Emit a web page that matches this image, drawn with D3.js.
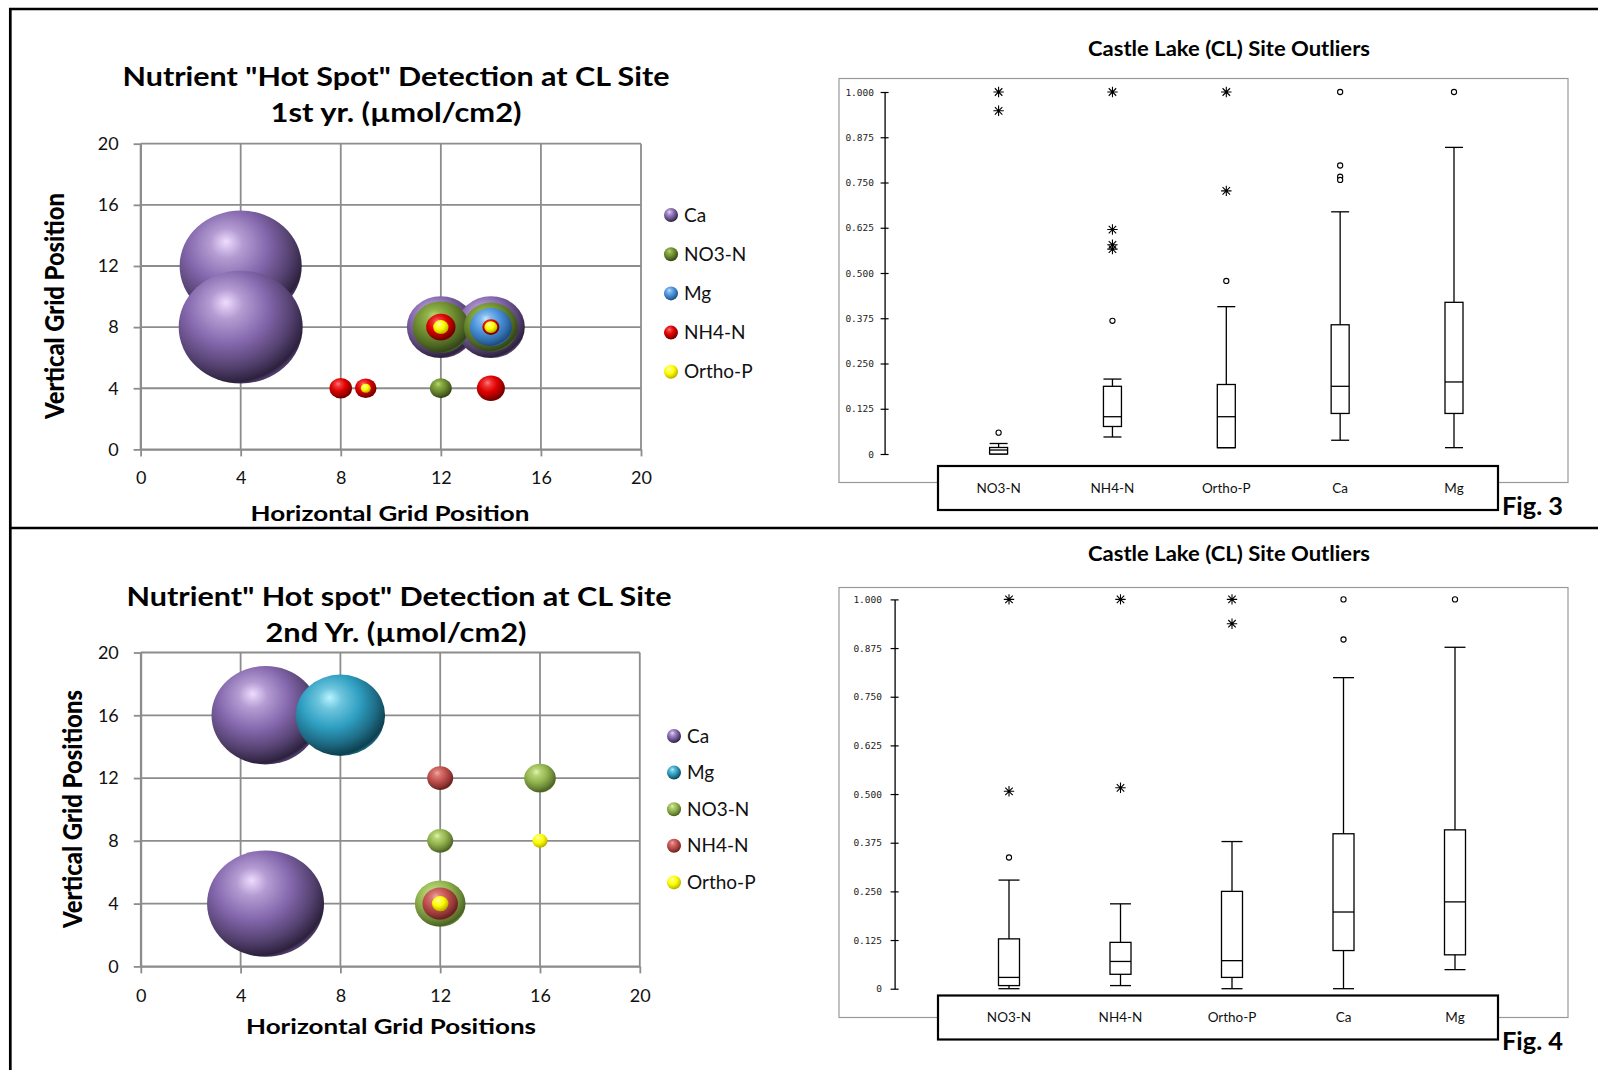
<!DOCTYPE html>
<html>
<head>
<meta charset="utf-8">
<script src="https://cdn.jsdelivr.net/npm/d3@7"></script>
<style>
  body { margin: 0; background: #fff; }
  svg { display: block; }
</style>
</head>
<body>
<svg width="1598" height="1070"></svg>
<script>
// bubble charts: [x, y, size]
var gridTicks = [0, 4, 8, 12, 16, 20];

var ca1 = [[4, 12, 9.7], [4, 8, 10.0], [12, 8, 3.0], [14, 8, 3.0]];
var no3n1 = [[12, 8, 2.08], [14, 8, 1.9], [12, 4, 0.31]];
var mg1 = [[14, 8, 1.15]];
var nh4n1 = [[12, 8, 0.56], [14, 8, 0.19], [8, 4, 0.33], [9, 4, 0.30], [14, 4, 0.51]];
var orthoP1 = [[12, 8, 0.154], [14, 8, 0.11], [9, 4, 0.065]];

var ca2 = [[5, 16, 7.6], [5, 4, 8.9]];
var mg2 = [[8, 16, 5.2]];
var no3n2 = [[16, 12, 0.65], [12, 8, 0.44], [12, 4, 1.67]];
var nh4n2 = [[12, 12, 0.44], [12, 4, 0.82]];
var orthoP2 = [[16, 8, 0.154], [12, 4, 0.18]];

// box plots
var boxCats = ["NO3-N", "NH4-N", "Ortho-P", "Ca", "Mg"];
var boxTicks = [0, 0.125, 0.25, 0.375, 0.5, 0.625, 0.75, 0.875, 1];

var f3Low = [0.0, 0.047, 0.0175, 0.038, 0.0175];
var f3Q1 = [0.0, 0.076, 0.0175, 0.112, 0.112];
var f3Med = [0.011, 0.103, 0.103, 0.187, 0.199];
var f3Q3 = [0.018, 0.187, 0.192, 0.357, 0.419];
var f3High = [0.029, 0.207, 0.407, 0.669, 0.847];
var f3Stars = [[1.0, 0.948], [1.0, 0.62, 0.578, 0.566], [1.0, 0.727], [], []];
var f3Circles = [[0.059], [0.368], [0.478], [1.0, 0.797, 0.766, 0.757], [1.0]];

var f4Low = [0.0, 0.008, 0.0, 0.0, 0.049];
var f4Q1 = [0.008, 0.037, 0.029, 0.098, 0.087];
var f4Med = [0.029, 0.070, 0.072, 0.197, 0.223];
var f4Q3 = [0.128, 0.119, 0.25, 0.398, 0.408];
var f4High = [0.279, 0.218, 0.378, 0.799, 0.877];
var f4Stars = [[1.0, 0.507], [1.0, 0.516], [1.0, 0.9375], [], []];
var f4Circles = [[0.337], [], [], [1.0, 0.897], [1.0]];

var FONT = "Lato, 'Open Sans', sans-serif";
var svg = d3.select("svg");
var defs = svg.append("defs");

var palette = {
  purple:  {hi: "#eedcff", base: "#8467ad", dark: "#2c213d"},
  olive:   {hi: "#bcdc70", base: "#6f8f30", dark: "#33441a"},
  blue:    {hi: "#c4e6ff", base: "#4a92dc", dark: "#1c4c80"},
  red:     {hi: "#ff7a7a", base: "#e00000", dark: "#6a0000"},
  yellow:  {hi: "#ffffc8", base: "#ffff00", dark: "#b5ad00"},
  teal:    {hi: "#b8f4ff", base: "#2f9fc2", dark: "#0e3f4f"},
  lgreen:  {hi: "#e0f7a8", base: "#93b54f", dark: "#4a6123"},
  brick:   {hi: "#f5a8a5", base: "#c0504d", dark: "#68201f"}
};

// light from the upper left, shadow toward the lower right
Object.keys(palette).forEach(function(k) {
  var c = palette[k];
  var gr = defs.append("radialGradient").attr("id", "g-" + k)
    .attr("cx", "40%").attr("cy", "36%").attr("r", "66%")
    .attr("fx", "38%").attr("fy", "28%");
  var stops = [[0, c.hi], [0.2, d3.interpolateRgb(c.hi, c.base)(0.55)], [0.5, c.base],
               [0.78, d3.interpolateRgb(c.base, c.dark)(0.55)], [0.96, c.dark],
               [1, d3.interpolateRgb(c.dark, c.base)(0.4)]];
  gr.selectAll("stop").data(stops).enter().append("stop")
    .attr("offset", function(d) { return d[0]; })
    .attr("stop-color", function(d) { return d[1]; });
});

var rScale = d3.scaleSqrt().domain([0, 10]).range([0, 62]);

function drawBubbleChart(o) {
  var x = d3.scaleLinear().domain([0, 20]).range([o.x0, o.x1]);
  var y = d3.scaleLinear().domain([0, 20]).range([o.y0, o.y1]);
  var g = svg.append("g");

  g.selectAll("line.vg").data(gridTicks).enter().append("line").attr("class", "vg")
    .attr("x1", function(d) { return x(d); }).attr("x2", function(d) { return x(d); })
    .attr("y1", y(0)).attr("y2", y(20))
    .attr("stroke", "#8c8c8c").attr("stroke-width", 1.8);
  g.selectAll("line.hg").data(gridTicks).enter().append("line").attr("class", "hg")
    .attr("y1", function(d) { return y(d); }).attr("y2", function(d) { return y(d); })
    .attr("x1", x(0)).attr("x2", x(20))
    .attr("stroke", "#8c8c8c").attr("stroke-width", 1.8);

  var ya = g.append("g").attr("transform", "translate(" + x(0) + ",0)")
    .call(d3.axisLeft(y).tickValues(gridTicks).tickSize(7).tickSizeOuter(0).tickPadding(15));
  var xa = g.append("g").attr("transform", "translate(0," + y(0) + ")")
    .call(d3.axisBottom(x).tickValues(gridTicks).tickSize(7).tickSizeOuter(0));
  [ya, xa].forEach(function(a) {
    a.select(".domain").attr("stroke", "#8c8c8c").attr("stroke-width", 1.8);
    a.selectAll(".tick line").attr("stroke", "#8c8c8c").attr("stroke-width", 1.8);
    a.selectAll("text").style("font-family", FONT).style("font-size", "18px").attr("fill", "#111");
  });
  xa.selectAll("text").attr("dy", null).attr("y", o.xLabelDy);

  o.series.forEach(function(s) {
    g.selectAll(null).data(s.data).enter().append("ellipse")
      .attr("cx", function(d) { return x(d[0]); })
      .attr("cy", function(d) { return y(d[1]); })
      .attr("rx", function(d) { return rScale(d[2]); })
      .attr("ry", function(d) { return rScale(d[2]) * 0.91; })
      .attr("fill", "url(#g-" + s.col + ")");
  });

  var lg = g.selectAll("g.leg").data(o.series).enter().append("g")
    .attr("transform", function(d, i) { return "translate(" + o.legX + "," + (o.legY + i * o.legDy) + ")"; });
  lg.append("circle").attr("r", 7).attr("fill", function(d) { return "url(#g-" + d.col + ")"; });
  lg.append("text").attr("x", 13).attr("dy", "0.35em")
    .style("font-family", FONT).style("font-size", "19px").attr("fill", "#111")
    .text(function(d) { return d.name; });

  o.title.forEach(function(t) {
    g.append("text").attr("x", t[1]).attr("y", t[2]).attr("text-anchor", "middle")
      .attr("textLength", t[3]).attr("lengthAdjust", "spacingAndGlyphs")
      .style("font-family", FONT).style("font-weight", "bold").style("font-size", "26px")
      .text(t[0]);
  });
  g.append("text").attr("x", o.xTitle[1]).attr("y", o.xTitle[2]).attr("text-anchor", "middle")
    .attr("textLength", o.xTitle[3]).attr("lengthAdjust", "spacingAndGlyphs")
    .style("font-family", FONT).style("font-weight", "bold").style("font-size", "21px")
    .text(o.xTitle[0]);
  g.append("text").attr("text-anchor", "middle")
    .attr("transform", "translate(" + o.yTitle[1] + "," + o.yTitle[2] + ") rotate(-90)")
    .attr("textLength", o.yTitle[3]).attr("lengthAdjust", "spacingAndGlyphs")
    .style("font-family", FONT).style("font-weight", "900").style("font-size", "27px")
    .text(o.yTitle[0]);
}

function starPath(s) {
  var d = s * 0.72;
  return "M0," + (-s) + "L0," + s + "M" + (-s) + ",0L" + s + ",0" +
    "M" + (-d) + "," + (-d) + "L" + d + "," + d + "M" + (-d) + "," + d + "L" + d + "," + (-d);
}

function drawBoxChart(o) {
  var y = d3.scaleLinear().domain([0, 1]).range([o.yBottom, o.yTop]);
  var x = d3.scalePoint().domain(boxCats).range([o.xFirst, o.xLast]);
  var g = svg.append("g");

  g.append("rect").attr("x", 839).attr("y", o.frameTop).attr("width", 729).attr("height", o.frameH)
    .attr("fill", "none").attr("stroke", "#999").attr("stroke-width", 1.2);

  g.append("text").attr("x", 1229).attr("y", o.titleY).attr("text-anchor", "middle")
    .attr("textLength", 282).attr("lengthAdjust", "spacingAndGlyphs")
    .style("font-family", FONT).style("font-weight", "bold").style("font-size", "20px")
    .text("Castle Lake (CL) Site Outliers");

  var ya = g.append("g").attr("transform", "translate(" + o.axisX + ",0)")
    .call(d3.axisLeft(y).tickValues(boxTicks).tickSize(4).tickSizeOuter(0).tickPadding(o.pad)
      .tickFormat(function(d) { return d === 0 ? "0" : d3.format(".3f")(d); }));
  ya.select(".domain").attr("stroke", "#000").attr("stroke-width", 1.3);
  ya.selectAll(".tick line").attr("x1", 4).attr("stroke", "#000").attr("stroke-width", 1.2);
  ya.selectAll("text").style("font-family", "'DejaVu Sans Mono', monospace")
    .style("font-size", "9.5px").attr("fill", "#222");

  var bw = o.boxW;
  var idx = d3.range(boxCats.length);
  var bx = g.selectAll("g.box").data(idx).enter().append("g")
    .attr("transform", function(i) { return "translate(" + x(boxCats[i]) + ",0)"; });
  function st(sel) { return sel.attr("stroke", "#000").attr("stroke-width", 1.3); }

  st(bx.append("line").attr("x1", 0).attr("x2", 0)
    .attr("y1", function(i) { return y(o.high[i]); }).attr("y2", function(i) { return y(o.low[i]); }));
  st(bx.append("line").attr("x1", -bw / 2).attr("x2", bw / 2)
    .attr("y1", function(i) { return y(o.high[i]); }).attr("y2", function(i) { return y(o.high[i]); }));
  st(bx.append("line").attr("x1", -bw / 2).attr("x2", bw / 2)
    .attr("y1", function(i) { return y(o.low[i]); }).attr("y2", function(i) { return y(o.low[i]); }));
  st(bx.append("rect").attr("x", -bw / 2).attr("width", bw)
    .attr("y", function(i) { return y(o.q3[i]); })
    .attr("height", function(i) { return y(o.q1[i]) - y(o.q3[i]); })
    .attr("fill", "#fff"));
  st(bx.append("line").attr("x1", -bw / 2).attr("x2", bw / 2)
    .attr("y1", function(i) { return y(o.med[i]); }).attr("y2", function(i) { return y(o.med[i]); }));

  bx.each(function(i) {
    var b = d3.select(this);
    b.selectAll("path.star").data(o.stars[i]).enter().append("path").attr("class", "star")
      .attr("transform", function(v) { return "translate(0," + y(v) + ")"; })
      .attr("d", starPath(5.2)).attr("stroke", "#000").attr("stroke-width", 1.1).attr("fill", "none");
    b.selectAll("circle.out").data(o.circles[i]).enter().append("circle").attr("class", "out")
      .attr("cy", function(v) { return y(v); }).attr("r", 2.6)
      .attr("fill", "#fff").attr("stroke", "#000").attr("stroke-width", 1.1);
  });

  g.append("rect").attr("x", 938).attr("y", o.catTop).attr("width", 560).attr("height", 44)
    .attr("fill", "#fff").attr("stroke", "#000").attr("stroke-width", 2.2);
  g.selectAll("text.cat").data(boxCats).enter().append("text").attr("class", "cat")
    .attr("x", function(d) { return x(d); }).attr("y", o.catY).attr("text-anchor", "middle")
    .style("font-family", FONT).style("font-size", "13.5px").attr("fill", "#111")
    .text(function(d) { return d; });

  g.append("text").attr("x", 1502).attr("y", o.figY)
    .attr("textLength", 61).attr("lengthAdjust", "spacingAndGlyphs")
    .style("font-family", FONT).style("font-weight", "bold").style("font-size", "24px")
    .text(o.fig);
}

drawBubbleChart({
  x0: 140.6, x1: 641, y0: 449.4, y1: 143.7, xLabelDy: 34.6,
  series: [
    {name: "Ca", data: ca1, col: "purple"},
    {name: "NO3-N", data: no3n1, col: "olive"},
    {name: "Mg", data: mg1, col: "blue"},
    {name: "NH4-N", data: nh4n1, col: "red"},
    {name: "Ortho-P", data: orthoP1, col: "yellow"}
  ],
  legX: 671, legY: 215, legDy: 39.2,
  title: [["Nutrient \"Hot Spot\" Detection at CL Site", 396, 86, 547],
          ["1st yr. (\u00b5mol/cm2)", 396, 122, 251]],
  xTitle: ["Horizontal Grid Position", 390, 521, 279],
  yTitle: ["Vertical Grid Position", 64, 306, 226]
});

drawBubbleChart({
  x0: 140.8, x1: 639.8, y0: 966.4, y1: 652.5, xLabelDy: 35.6,
  series: [
    {name: "Ca", data: ca2, col: "purple"},
    {name: "Mg", data: mg2, col: "teal"},
    {name: "NO3-N", data: no3n2, col: "lgreen"},
    {name: "NH4-N", data: nh4n2, col: "brick"},
    {name: "Ortho-P", data: orthoP2, col: "yellow"}
  ],
  legX: 674, legY: 736, legDy: 36.6,
  title: [["Nutrient\" Hot spot\" Detection at CL Site", 399, 605.6, 545],
          ["2nd Yr. (\u00b5mol/cm2)", 396, 641.5, 261]],
  xTitle: ["Horizontal Grid Positions", 391, 1034, 290],
  yTitle: ["Vertical Grid Positions", 82, 809, 238]
});

drawBoxChart({
  yBottom: 454, yTop: 92, xFirst: 998.6, xLast: 1454, axisX: 884.6, pad: 6.6, boxW: 18,
  frameTop: 78.5, frameH: 404, titleY: 55.7, catTop: 466, catY: 492.5, figY: 515, fig: "Fig. 3",
  low: f3Low, q1: f3Q1, med: f3Med, q3: f3Q3, high: f3High, stars: f3Stars, circles: f3Circles
});

drawBoxChart({
  yBottom: 988.7, yTop: 599.4, xFirst: 1009, xLast: 1455, axisX: 894.6, pad: 8.6, boxW: 21,
  frameTop: 587.5, frameH: 430, titleY: 560.5, catTop: 995.5, catY: 1022, figY: 1050, fig: "Fig. 4",
  low: f4Low, q1: f4Q1, med: f4Med, q3: f4Q3, high: f4High, stars: f4Stars, circles: f4Circles
});

// page frame
svg.append("path").attr("d", "M10.3,1070V9H1598").attr("fill", "none").attr("stroke", "#000").attr("stroke-width", 2.7);
svg.append("line").attr("x1", 10).attr("x2", 1598).attr("y1", 528).attr("y2", 528)
  .attr("stroke", "#000").attr("stroke-width", 2.7);
</script>
</body>
</html>
